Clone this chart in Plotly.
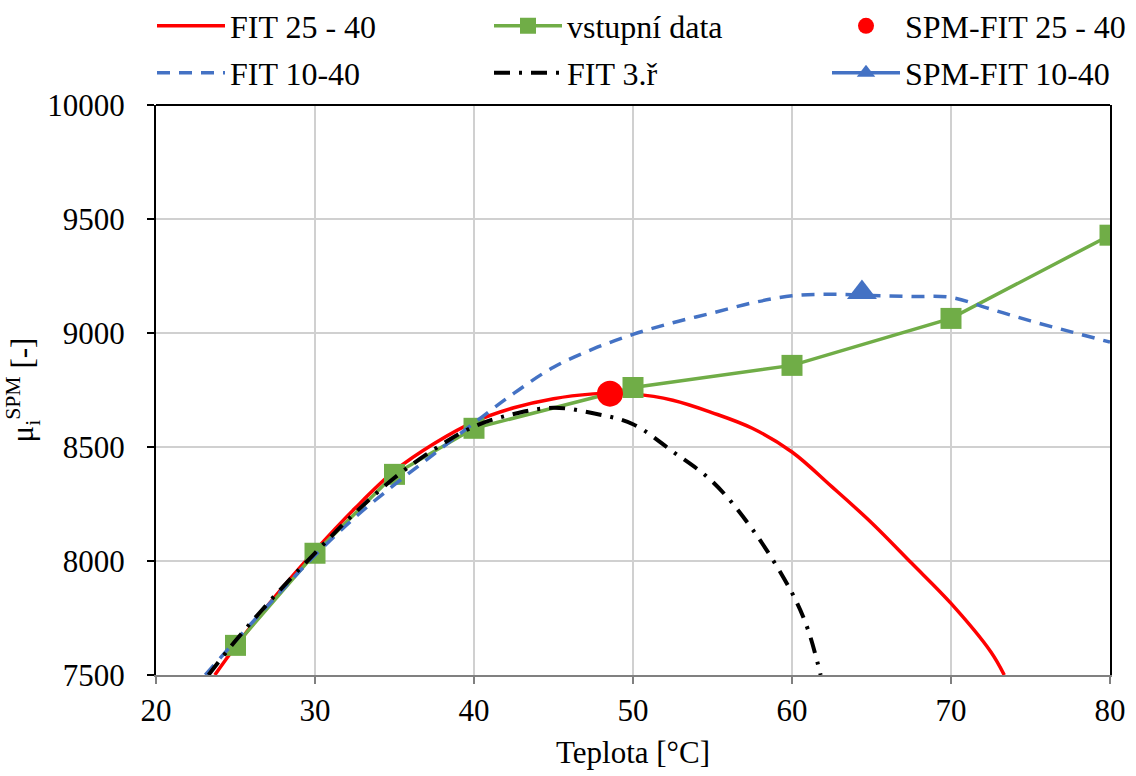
import plotly.graph_objects as go

# Input data
x_data = [25, 30, 35, 40, 50, 60, 70, 80]
y_data = [7630, 8034, 8380, 8582, 8761, 8858, 9064, 9429]

# FIT 25 - 40
x_fit2540 = [23.7, 25, 27.5, 30, 32.5, 35, 37.5, 40, 42.5, 45, 47.5, 48.6, 50, 52.5, 55, 57.5,
             60, 62.5, 65, 67.5, 70, 72.5, 73.35]
y_fit2540 = [7500, 7625, 7845, 8045, 8230, 8395, 8515, 8610, 8672, 8712, 8733, 8736, 8733, 8705,
             8650, 8582, 8478, 8326, 8168, 7992, 7814, 7602, 7500]

# FIT 10-40
x_fit1040 = [23.1, 25, 27.5, 30, 32.5, 35, 37.5, 40, 42.5, 45, 47.5, 50, 52.5, 55, 57.5, 60,
             62.5, 65, 67.5, 70, 72.5, 75, 77.5, 80]
y_fit1040 = [7500, 7650, 7840, 8025, 8190, 8335, 8470, 8605, 8735, 8850, 8930, 8994, 9045, 9088,
             9132, 9163, 9170, 9165, 9160, 9156, 9105, 9053, 9006, 8960]

# FIT 3.ř
x_fit3 = [23.3, 25, 27.5, 30, 32.5, 35, 37.5, 40, 42.5, 45, 47.5, 50, 52.5, 55, 57.5, 60, 61,
          61.8]
y_fit3 = [7500, 7650, 7850, 8035, 8210, 8365, 8490, 8590, 8645, 8672, 8648, 8600, 8480, 8348,
          8140, 7860, 7700, 7500]

# Optimum points
x_spm2540 = [48.55]
y_spm2540 = [8734]
x_spm1040 = [64.4]
y_spm1040 = [9178]

x_ticks = [20, 30, 40, 50, 60, 70, 80]
y_ticks = [7500, 8000, 8500, 9000, 9500, 10000]

RED = "#ff0000"
GREEN = "#70ad47"
BLUE = "#4472c4"
FONT = "Liberation Serif"
FS = 31
FS_LEG = 32
W, H = 1136, 776

fig = go.Figure()

fig.add_trace(go.Scatter(
    x=x_fit2540, y=y_fit2540, mode="lines", name="FIT 25 - 40",
    line=dict(color=RED, width=3.5, shape="spline"), legend="legend"))
fig.add_trace(go.Scatter(
    x=x_data, y=y_data, mode="lines+markers", name="vstupní data",
    line=dict(color=GREEN, width=3.5),
    marker=dict(symbol="square", size=21, color=GREEN), legend="legend2"))
fig.add_trace(go.Scatter(
    x=x_fit1040, y=y_fit1040, mode="lines", name="FIT 10-40",
    line=dict(color=BLUE, width=3.5, dash="13px,9px", shape="spline"), legend="legend4"))
fig.add_trace(go.Scatter(
    x=x_fit3, y=y_fit3, mode="lines", name="FIT 3.ř",
    line=dict(color="black", width=4, dash="16px,9px,3px,9px", shape="spline"),
    legend="legend5"))
fig.add_trace(go.Scatter(
    x=x_spm2540, y=y_spm2540, mode="markers", name="SPM-FIT 25 - 40",
    marker=dict(symbol="circle", size=26, color=RED), legend="legend3"))
fig.add_trace(go.Scatter(
    x=x_spm1040, y=y_spm1040, mode="lines+markers", name="SPM-FIT 10-40",
    line=dict(color=BLUE, width=3.5),
    marker=dict(symbol="triangle-up", size=26, color=BLUE), legend="legend6"))

for tr in fig.data:
    tr.showlegend = True


def legend_at(px, py):
    # one legend box per entry, placed in container pixels
    return dict(
        orientation="h", xref="container", yref="container",
        x=px / W, y=1 - py / H, xanchor="left", yanchor="middle",
        font=dict(family=FONT, size=FS_LEG, color="black"),
        itemwidth=68, bgcolor="rgba(0,0,0,0)", itemclick=False, visible=True)


fig.update_layout(
    width=W, height=H, showlegend=True,
    margin=dict(l=156, r=26, t=105, b=101, autoexpand=False),
    paper_bgcolor="white", plot_bgcolor="white",
    font=dict(family=FONT, size=FS, color="black"),
    legend=legend_at(152, 26),
    legend2=legend_at(489, 26),
    legend3=legend_at(827, 26),
    legend4=legend_at(152, 73),
    legend5=legend_at(489, 73),
    legend6=legend_at(827, 73),
    xaxis=dict(
        range=[20, 80], tickmode="array", tickvals=x_ticks,
        showgrid=True, gridcolor="#d0d0d0", gridwidth=1.5,
        showline=True, linecolor="#808080", linewidth=2,
        ticks="outside", ticklen=7, tickcolor="#808080", tickwidth=1.5,
        tickfont=dict(family=FONT, size=FS), zeroline=False,
        title=dict(text="Teplota [°C]", font=dict(family=FONT, size=FS), standoff=14)),
    yaxis=dict(
        range=[7500, 10000], tickmode="array", tickvals=y_ticks, tickformat="d",
        showgrid=True, gridcolor="#d0d0d0", gridwidth=1.5,
        showline=True, linecolor="black", linewidth=2, mirror=True,
        ticks="outside", ticklen=7, tickcolor="black", tickwidth=1.5,
        ticklabelstandoff=16,
        tickfont=dict(family=FONT, size=FS), zeroline=False,
        title=dict(text="μ<sub>i</sub><sup>SPM</sup> [-]", font=dict(family=FONT, size=FS),
                   standoff=4)),
    shapes=[dict(type="line", xref="paper", yref="paper", x0=0, x1=1, y0=1, y1=1,
                 line=dict(color="black", width=2), layer="above")],
)

fig.write_html("out.html")
